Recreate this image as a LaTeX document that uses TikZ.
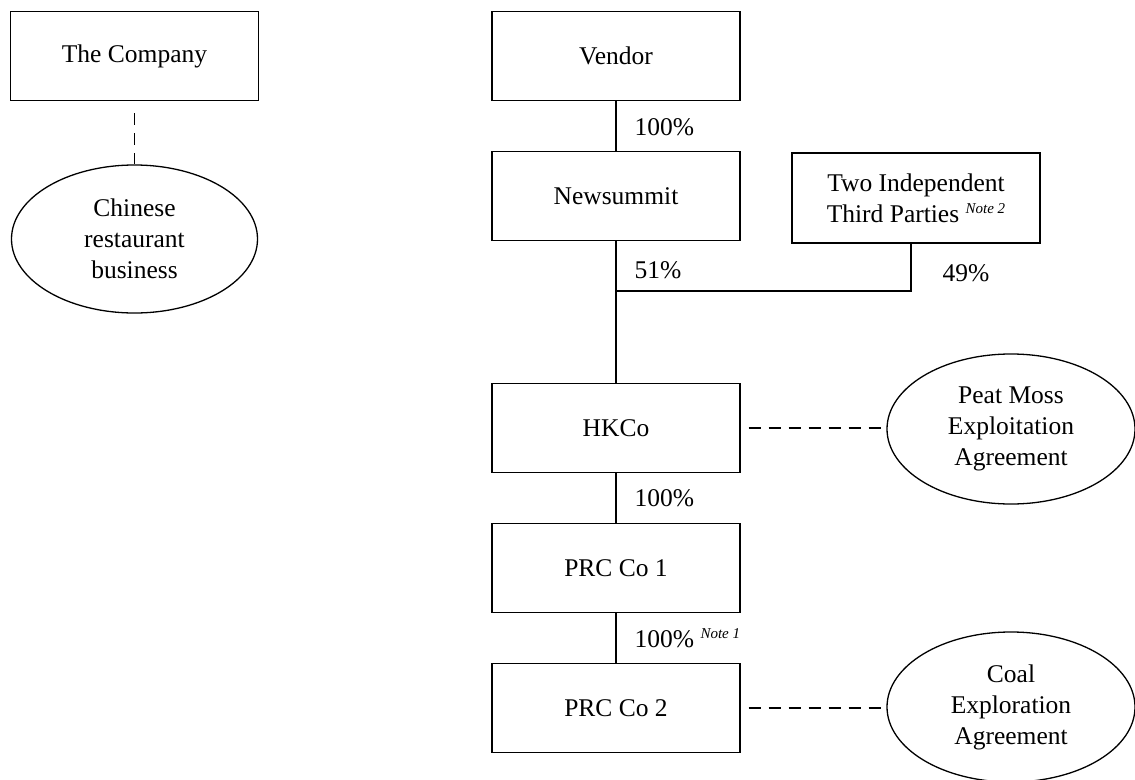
\documentclass[tikz,border=0pt]{standalone}
\usepackage{fontspec}
\setmainfont{Liberation Serif}
\usetikzlibrary{shapes.geometric}
\newcommand{\mynote}[1]{\ \raisebox{9pt}{\fontsize{15}{15}\selectfont\itshape #1}}
\tikzset{
  every picture/.style={line width=1.3pt},
  txt/.style={font=\fontsize{25.5}{31}\selectfont, align=center},
  entity/.style={txt, draw, rectangle, minimum width=248pt, minimum height=89pt, inner sep=0pt},
  agreement/.style={txt, draw, ellipse, minimum width=248pt, minimum height=150pt, inner sep=0pt},
  pct/.style={txt, anchor=west, inner sep=0pt},
  owns/.style={draw, line width=1.3pt},
  link/.style={draw, line width=1.3pt, dash pattern=on 12pt off 8pt},
}
\begin{document}
\begin{tikzpicture}[x=1pt,y=-1pt]
\useasboundingbox (0,0) rectangle (1135,779);
% left part
\node[entity] (company) at (134.5,56) {The Company};
\node[agreement, minimum width=246pt, minimum height=148pt] (chinese) at (134.5,239) {Chinese\\restaurant\\business};
\draw[link] ([yshift=-12pt]company.south) -- (chinese.north);
% right part
\node[entity] (vendor) at (616,56) {Vendor};
\node[entity] (newsummit) at (616,196) {Newsummit};
\node[entity, minimum height=90pt] (third) at (916,198) {Two Independent\\Third Parties\mynote{Note 2}};
\node[entity] (hkco) at (616,428) {HKCo};
\node[entity] (prc1) at (616,568) {PRC Co 1};
\node[entity] (prc2) at (616,708) {PRC Co 2};
\node[agreement] (peat) at (1011,429) {Peat Moss\\Exploitation\\Agreement};
\node[agreement] (coal) at (1011,707) {Coal\\Exploration\\Agreement};
\coordinate (join) at (616,291);
% ownership lines
\draw[owns] (vendor.south) -- (newsummit.north);
\draw[owns] (newsummit.south) -- (hkco.north);
\draw[owns] ([xshift=-5pt]third.south) |- (join);
\draw[owns] (hkco.south) -- (prc1.north);
\draw[owns] (prc1.south) -- (prc2.north);
% agreements
\draw[link] ([xshift=8pt]hkco.east) -- (hkco.east -| peat.west);
\draw[link] ([xshift=8pt]prc2.east) -- (prc2.east -| coal.west);
% percentages
\node[pct] (p1) at (634,127) {100\%};
\node[pct] (p2) at (634,270) {51\%};
\node[pct] (p3) at (942,273) {49\%};
\node[pct] (p4) at (634,498) {100\%};
\node[pct] (p5) at (634,638) {100\%\mynote{Note 1}};
\end{tikzpicture}
\end{document}
